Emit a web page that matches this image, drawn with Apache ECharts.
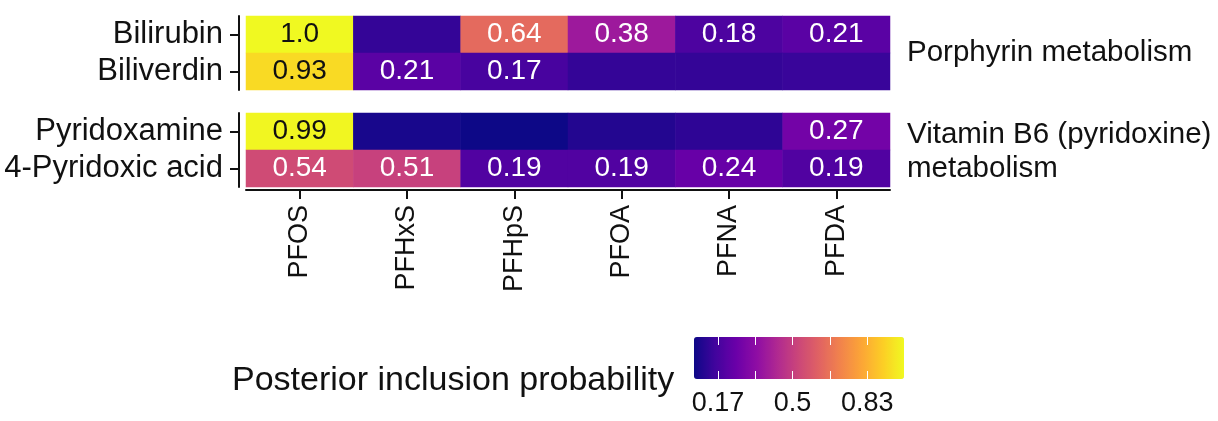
<!DOCTYPE html>
<html>
<head>
<meta charset="utf-8">
<script src="https://cdn.jsdelivr.net/npm/echarts@6/dist/echarts.min.js"></script>
<style>
    html, body { margin: 0; padding: 0; background: #fff; }
    #main { width: 1218px; height: 421px; }
</style>
</head>
<body>
<div id="main"></div>
<script>
// exposures (columns) and metabolites (rows per pathway)
var exposures = ['PFOS', 'PFHxS', 'PFHpS', 'PFOA', 'PFNA', 'PFDA'];
var porphyrinRows = ['Bilirubin', 'Biliverdin'];
var vitaminRows = ['Pyridoxamine', '4-Pyridoxic acid'];

// posterior inclusion probabilities, one array per metabolite
var bilirubin     = [0.996, 0.13, 0.64, 0.38, 0.18, 0.21];
var biliverdin    = [0.93, 0.21, 0.17, 0.13, 0.13, 0.14];
var pyridoxamine  = [0.99, 0.08, 0.06, 0.10, 0.12, 0.27];
var pyridoxicAcid = [0.54, 0.51, 0.19, 0.19, 0.24, 0.19];

// colour bar
var pipMin = 0.06, pipMax = 0.997;
var legendTicks = [1 / 6, 2 / 6, 3 / 6, 4 / 6, 5 / 6];
var legendLabels = [1 / 6, 3 / 6, 5 / 6];

var plasma = ['#0d0887', '#41049d', '#6a00a8', '#8f0da4', '#b12a90',
              '#cc4778', '#e16462', '#f2844b', '#fca636', '#fcce25', '#f0f921'];

var FONT = "'Liberation Sans', Arial, sans-serif";

function cells(rows) {
    var out = [];
    rows.forEach(function (vals, r) {
        vals.forEach(function (v, c) {
            out.push({
                value: [c, r, v],
                label: { color: v > 0.8 ? '#111' : '#fff' }
            });
        });
    });
    return out;
}

function cellLabel(p) {
    var v = p.value[2];
    return v >= 0.15 ? v.toPrecision(2) : '';
}

function yAxisFor(idx, names) {
    return {
        type: 'category', gridIndex: idx, data: names, inverse: true,
        offset: 7,
        axisLine: { show: true, lineStyle: { color: '#111', width: 2 } },
        axisTick: { show: true, length: 9, alignWithLabel: true, lineStyle: { color: '#111', width: 2 } },
        axisLabel: { color: '#111', fontSize: 31, fontFamily: FONT, margin: 16, interval: 0 },
        splitLine: { show: false }
    };
}

var chart = echarts.init(document.getElementById('main'));

var option = {
    animation: false,
    grid: [
        { left: 246, top: 16, width: 644, height: 74 },
        { left: 246, top: 113, width: 644, height: 74 },
        { left: 694, top: 337, width: 210, height: 42 }
    ],
    xAxis: [
        { type: 'category', gridIndex: 0, data: exposures, show: false },
        {
            type: 'category', gridIndex: 1, data: exposures,
            offset: 3,
            axisLine: { show: true, lineStyle: { color: '#111', width: 2 } },
            axisTick: { show: true, length: 9, alignWithLabel: true, lineStyle: { color: '#111', width: 2 } },
            axisLabel: { color: '#111', fontSize: 27, fontFamily: FONT, rotate: 90, margin: 15, interval: 0 },
            splitLine: { show: false }
        },
        {
            type: 'value', gridIndex: 2, min: pipMin, max: pipMax, position: 'bottom', z: 10,
            axisLine: { show: false },
            axisTick: { show: true, inside: true, length: 8, customValues: legendTicks,
                        lineStyle: { color: '#fff', width: 1 } },
            axisLabel: { color: '#111', fontSize: 27, fontFamily: FONT, margin: 11,
                         customValues: legendLabels,
                         formatter: function (v) { return String(Math.round(v * 100) / 100); } },
            splitLine: { show: false }
        },
        {
            type: 'value', gridIndex: 2, min: pipMin, max: pipMax, position: 'top', z: 10,
            axisLine: { show: false },
            axisTick: { show: true, inside: true, length: 8, customValues: legendTicks,
                        lineStyle: { color: '#fff', width: 1 } },
            axisLabel: { show: false },
            splitLine: { show: false }
        }
    ],
    yAxis: [
        yAxisFor(0, porphyrinRows),
        yAxisFor(1, vitaminRows),
        { type: 'value', gridIndex: 2, show: false, min: 0, max: 1 }
    ],
    visualMap: {
        type: 'continuous',
        min: pipMin, max: pipMax,
        seriesIndex: [0, 1],
        orient: 'horizontal',
        left: 679, top: 322,
        itemWidth: 42, itemHeight: 210,
        calculable: false,
        hoverLink: false,
        inRange: { color: plasma }
    },
    graphic: [
        { type: 'text', left: 907, top: 38,
          style: { text: 'Porphyrin metabolism', fontSize: 29.5, fontFamily: FONT, fill: '#111' } },
        { type: 'text', left: 907, top: 118,
          style: { text: 'Vitamin B6 (pyridoxine)\nmetabolism', fontSize: 29.5, lineHeight: 34,
                   fontFamily: FONT, fill: '#111' } },
        { type: 'text', left: 232, top: 364,
          style: { text: 'Posterior inclusion probability', fontSize: 34, fontFamily: FONT, fill: '#111' } }
    ],
    series: [
        {
            type: 'heatmap', xAxisIndex: 0, yAxisIndex: 0,
            data: cells([bilirubin, biliverdin]),
            label: { show: true, fontSize: 28, fontFamily: FONT, formatter: cellLabel }
        },
        {
            type: 'heatmap', xAxisIndex: 1, yAxisIndex: 1,
            data: cells([pyridoxamine, pyridoxicAcid]),
            label: { show: true, fontSize: 28, fontFamily: FONT, formatter: cellLabel }
        }
    ]
};

chart.setOption(option);
</script>
</body>
</html>
